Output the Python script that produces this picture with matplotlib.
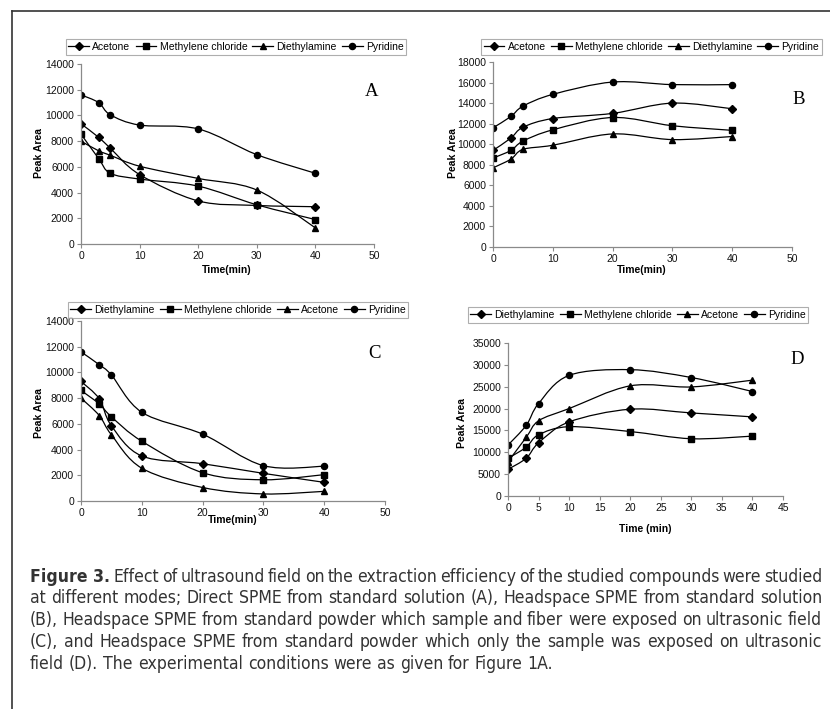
import numpy as np
import matplotlib
matplotlib.use("Agg")
import matplotlib.pyplot as plt
from matplotlib.path import Path
from matplotlib.patches import PathPatch
from matplotlib.lines import Line2D
from matplotlib import font_manager

# Data

time_min = [0, 3, 5, 10, 20, 30, 40]

# A - direct SPME, standard solution
a_acetone = [9350, 8300, 7450, 5400, 3350, 3000, 2900]
a_methylene = [8550, 6650, 5500, 5050, 4500, 3050, 1900]
a_diethylamine = [8000, 7250, 6900, 6050, 5100, 4200, 1250]
a_pyridine = [11600, 11000, 10050, 9250, 8950, 6950, 5500]

# B - headspace SPME, standard solution
b_acetone = [9400, 10600, 11650, 12500, 13000, 14000, 13450]
b_methylene = [8650, 9400, 10300, 11400, 12600, 11800, 11350]
b_diethylamine = [7700, 8550, 9500, 9900, 11000, 10450, 10750]
b_pyridine = [11600, 12700, 13700, 14850, 16050, 15800, 15800]

# C - headspace SPME, powder, sample + fiber sonicated
c_diethylamine = [9300, 7950, 5850, 3500, 2900, 2150, 1450]
c_methylene = [8600, 7550, 6550, 4650, 2200, 1650, 2050]
c_acetone = [8000, 6650, 5150, 2550, 1050, 550, 750]
c_pyridine = [11600, 10600, 9800, 6900, 5200, 2750, 2700]

# D - headspace SPME, powder, only sample sonicated
d_diethylamine = [6100, 8650, 12150, 16950, 19850, 19000, 18100]
d_methylene = [8600, 11200, 14000, 15850, 14750, 13100, 13700]
d_acetone = [7850, 13450, 17200, 20000, 25200, 24950, 26500]
d_pyridine = [11650, 16200, 21150, 27600, 28900, 27100, 23900]

W, H = 830, 709

names = {f.name for f in font_manager.fontManager.ttflist}
sans = "Liberation Sans" if "Liberation Sans" in names else "DejaVu Sans"
serif = "Liberation Serif" if "Liberation Serif" in names else "DejaVu Serif"
if "Liberation Sans Narrow" in names:
    cap_font = dict(family="Liberation Sans Narrow")
else:
    cap_font = dict(family="DejaVu Sans", stretch="condensed")

plt.rcParams["font.family"] = [sans, "DejaVu Sans"]

fig = plt.figure(figsize=(W / 100, H / 100), dpi=100)


def fx(px):
    return px / W


def fy(py):
    return 1 - py / H


def smooth_path(x, y):
    # Excel style smoothed line: cubic bezier through the points
    pts = np.column_stack([x, y]).astype(float)
    n = len(pts)
    verts = [pts[0]]
    codes = [Path.MOVETO]
    for i in range(n - 1):
        p0 = pts[i - 1] if i > 0 else pts[i]
        p1 = pts[i]
        p2 = pts[i + 1]
        p3 = pts[i + 2] if i + 2 < n else pts[i + 1]
        c1 = p1 + (p2 - p0) / 6
        c2 = p2 - (p3 - p1) / 6
        verts += [c1, c2, p2]
        codes += [Path.CURVE4] * 3
    return Path(verts, codes)


markers = {"diamond": ("D", 3.6), "square": ("s", 4.0), "triangle": ("^", 4.6), "circle": ("o", 4.4)}


def panel(box, series, ymax, ystep, xmax, xstep, letter, letter_xy,
          ylabel_xy, xlabel_xy, xlabel, legend_xy, legend_loc):
    left, right, top, bottom = box
    ax = fig.add_axes([fx(left), fy(bottom), fx(right - left), (bottom - top) / H])
    handles = []
    for label, vals, mk in series:
        m, ms = markers[mk]
        ax.add_patch(PathPatch(smooth_path(time_min, vals), fill=False,
                               edgecolor="black", lw=0.9, transform=ax.transData))
        ax.plot(time_min, vals, linestyle="none", marker=m, ms=ms, color="black")
        handles.append(Line2D([], [], color="black", lw=0.9, marker=m, ms=ms, label=label))
    ax.set_xlim(0, xmax)
    ax.set_ylim(0, ymax)
    ax.set_xticks(np.arange(0, xmax + 1, xstep))
    ax.set_yticks(np.arange(0, ymax + 1, ystep))
    for s in ["top", "right"]:
        ax.spines[s].set_visible(False)
    for s in ["left", "bottom"]:
        ax.spines[s].set_color("#8a8a8a")
        ax.spines[s].set_linewidth(0.9)
    ax.tick_params(direction="out", length=3, width=0.8, color="#8a8a8a",
                   labelsize=7.5, labelcolor="#111111", pad=2)
    ax.patch.set_alpha(0)

    fig.text(fx(ylabel_xy[0]), fy(ylabel_xy[1]), "Peak Area", rotation=90,
             ha="center", va="center", fontsize=7.5, fontweight="bold")
    fig.text(fx(xlabel_xy[0]), fy(xlabel_xy[1]), xlabel,
             ha="center", va="center", fontsize=7.5, fontweight="bold")
    fig.text(fx(letter_xy[0]), fy(letter_xy[1]), letter, family=serif,
             ha="center", va="center", fontsize=13.5)

    leg = fig.legend(handles=handles, loc=legend_loc,
                     bbox_to_anchor=(fx(legend_xy[0]), fy(legend_xy[1])),
                     ncol=4, fontsize=7.5, frameon=True, fancybox=False,
                     edgecolor="#9a9a9a", handlelength=2.0, handletextpad=0.3,
                     columnspacing=0.5, borderpad=0.25, borderaxespad=0)
    leg.get_frame().set_linewidth(0.8)
    return ax


panel((81, 374, 64, 244),
      [("Acetone", a_acetone, "diamond"), ("Methylene chloride", a_methylene, "square"),
       ("Diethylamine", a_diethylamine, "triangle"), ("Pyridine", a_pyridine, "circle")],
      14000, 2000, 50, 10, "A", (372, 92), (39, 153), (227, 270), "Time(min)",
      (236, 47), "center")

panel((493, 792, 62, 247),
      [("Acetone", b_acetone, "diamond"), ("Methylene chloride", b_methylene, "square"),
       ("Diethylamine", b_diethylamine, "triangle"), ("Pyridine", b_pyridine, "circle")],
      18000, 2000, 50, 10, "B", (799, 100), (453, 153), (642, 270), "Time(min)",
      (481, 47), "center left")

panel((81, 385, 321, 501),
      [("Diethylamine", c_diethylamine, "diamond"), ("Methylene chloride", c_methylene, "square"),
       ("Acetone", c_acetone, "triangle"), ("Pyridine", c_pyridine, "circle")],
      14000, 2000, 50, 10, "C", (374, 353), (39, 413), (233, 520), "Time(min)",
      (238, 310), "center")

panel((508, 783, 343, 496),
      [("Diethylamine", d_diethylamine, "diamond"), ("Methylene chloride", d_methylene, "square"),
       ("Acetone", d_acetone, "triangle"), ("Pyridine", d_pyridine, "circle")],
      35000, 5000, 45, 5, "D", (797, 360), (462, 423), (645, 529), "Time (min)",
      (638, 315), "center")

# page frame (left and top rules)
fig.add_artist(Line2D([fx(12), fx(12)], [fy(10.5), 0], color="#333333", lw=1.2))
fig.add_artist(Line2D([fx(12), 1], [fy(10.5), fy(10.5)], color="#333333", lw=1.2))

# caption, justified word by word
cap_lines = [
    "Effect of ultrasound field on the extraction efficiency of the studied compounds were studied",
    "at different modes; Direct SPME from standard solution (A), Headspace SPME from standard solution",
    "(B), Headspace SPME from standard powder which sample and fiber were exposed on ultrasonic field",
    "(C), and Headspace SPME from standard powder which only the sample was exposed on ultrasonic",
    "field (D). The experimental conditions were as given for Figure 1A.",
]
cap_head = "Figure 3."
baselines = [582, 603, 625, 647, 669]
cap_left, cap_right = 30, 822
cap_size = 12.6
cap_color = "#333333"

fig.canvas.draw()
renderer = fig.canvas.get_renderer()


def width_px(t):
    return t.get_window_extent(renderer).width


for k, (line, yb) in enumerate(zip(cap_lines, baselines)):
    words = line.split(" ")
    if k == 0:
        words = [cap_head] + words
    objs = []
    for i, w in enumerate(words):
        bold = (k == 0 and i == 0)
        t = fig.text(0, fy(yb), w, fontsize=cap_size, color=cap_color,
                     fontweight="bold" if bold else "normal", va="baseline", ha="left",
                     **cap_font)
        objs.append(t)
    widths = [width_px(t) for t in objs]
    t1 = fig.text(0, 0, "a a", fontsize=cap_size, **cap_font)
    t2 = fig.text(0, 0, "aa", fontsize=cap_size, **cap_font)
    sp = width_px(t1) - width_px(t2)
    t1.remove()
    t2.remove()
    if k < len(cap_lines) - 1:
        gap = (cap_right - cap_left - sum(widths)) / (len(objs) - 1)
    else:
        gap = sp
    x = cap_left
    for t, wd in zip(objs, widths):
        t.set_x(fx(x))
        x += wd + gap

fig.savefig("out.png", dpi=100)
